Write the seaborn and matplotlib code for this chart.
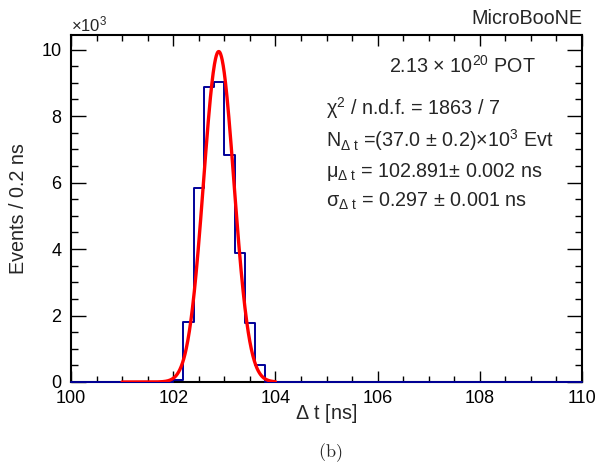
import numpy as np
import pandas as pd
import seaborn as sns
import matplotlib
matplotlib.use("Agg")
import matplotlib.pyplot as plt
from matplotlib.ticker import MultipleLocator

# ---------------- data ----------------
bin_width = 0.2                      # ns
x_range = [100.0, 110.0]
filled_bin_starts = [102.0, 102.2, 102.4, 102.6, 102.8, 103.0, 103.2, 103.4, 103.6]
filled_counts_k = [0.05, 1.79, 5.82, 8.88, 9.03, 6.84, 3.88, 1.76, 0.51]   # x10^3 events

# Gaussian fit parameters (as printed on the chart)
fit_N_k = 37.0        # x10^3 events
fit_mu = 102.891      # ns
fit_sigma = 0.297     # ns
fit_range = [101.0, 104.0]

x_ticks = [100, 102, 104, 106, 108, 110]
y_ticks = [0, 2, 4, 6, 8, 10]

# ---------------- style ----------------
sns.set_theme(style="ticks")
plt.rcParams["font.family"] = ["Liberation Sans", "DejaVu Sans"]
plt.rcParams["mathtext.fontset"] = "custom"
plt.rcParams["mathtext.rm"] = "Liberation Sans"
plt.rcParams["mathtext.it"] = "Liberation Sans"
plt.rcParams["mathtext.default"] = "regular"

FS_TICK = 13
FS_TXT = 14.2

fig = plt.figure(figsize=(5.98, 4.72), dpi=100)
ax = fig.add_axes([71 / 598, 90 / 472, 511 / 598, 347 / 472])

# histogram through seaborn
n_bins = int(round((x_range[1] - x_range[0]) / bin_width))
centers = x_range[0] + bin_width * (np.arange(n_bins) + 0.5)
weights = np.zeros(n_bins)
for s, c in zip(filled_bin_starts, filled_counts_k):
    idx = int(round((s - x_range[0]) / bin_width))
    weights[idx] = c
df = pd.DataFrame({"dt": centers, "w": weights})
sns.histplot(data=df, x="dt", weights="w", binwidth=bin_width, binrange=tuple(x_range),
             element="step", fill=False, color="#000099", linewidth=1.4, ax=ax, zorder=4)
for art in list(ax.lines) + list(ax.collections) + list(ax.patches):
    art.set_clip_on(False)

# Gaussian fit curve from the printed parameters
xf = np.linspace(fit_range[0], fit_range[1], 600)
yf = fit_N_k * bin_width / (fit_sigma * np.sqrt(2 * np.pi)) * np.exp(-0.5 * ((xf - fit_mu) / fit_sigma) ** 2)
sns.lineplot(x=xf, y=yf, color="#ff0000", linewidth=2.4, ax=ax, sort=False,
             estimator=None, zorder=5)

ymax = 1.05 * max(max(filled_counts_k), yf.max())
ax.set_xlim(*x_range)
ax.set_ylim(0, ymax)
ax.set_xticks(x_ticks)
ax.set_yticks(y_ticks)
ax.xaxis.set_minor_locator(MultipleLocator(0.5))
ax.yaxis.set_minor_locator(MultipleLocator(0.5))
ax.tick_params(which="both", direction="in", top=True, right=True, colors="black",
               labelsize=FS_TICK, width=1.0)
ax.tick_params(axis="x", which="major", length=8, pad=6)
ax.tick_params(axis="x", which="minor", length=4)
ax.tick_params(axis="y", which="major", length=11, pad=7)
ax.tick_params(axis="y", which="minor", length=5)
for sp in ax.spines.values():
    sp.set_linewidth(1.5)
    sp.set_color("black")
    sp.set_visible(True)
ax.grid(False)
ax.set_facecolor("white")

ax.set_xlabel(r"$\Delta$ t [ns]", fontsize=FS_TXT)
ax.xaxis.set_label_coords(0.5, -0.058)
ax.set_ylabel("Events / 0.2 ns", fontsize=FS_TXT)
ax.yaxis.set_label_coords(-0.085, 0.5)

ax.text(0.0, 1.009, r"$\times$10$^{3}$", transform=ax.transAxes, fontsize=12,
        ha="left", va="baseline")
ax.text(1.0, 1.032, "MicroBooNE", transform=ax.transAxes, fontsize=FS_TXT,
        ha="right", va="baseline")

tx = 0.50
ax.text(0.623, 0.890, r"2.13 $\times$ 10$^{20}$ POT", transform=ax.transAxes,
        fontsize=FS_TXT, va="baseline")
ax.text(tx, 0.769, r"$\chi^{2}$ / n.d.f. = 1863 / 7", transform=ax.transAxes,
        fontsize=FS_TXT, va="baseline")
ax.text(tx, 0.677, r"N$_{\Delta\ t}$ =(37.0 $\pm$ 0.2)$\times$10$^{3}$ Evt",
        transform=ax.transAxes, fontsize=FS_TXT, va="baseline")
ax.text(tx, 0.591, r"$\mu_{\Delta\ t}$ = 102.891$\pm$ 0.002 ns",
        transform=ax.transAxes, fontsize=FS_TXT, va="baseline")
ax.text(tx, 0.504, r"$\sigma_{\Delta\ t}$ = 0.297 $\pm$ 0.001 ns",
        transform=ax.transAxes, fontsize=FS_TXT, va="baseline")

fig.text(0.552, 0.042, r"$\mathrm{(b)}$", math_fontfamily="cm", fontsize=13,
         ha="center", va="center")

fig.savefig("out.png", dpi=100, facecolor="white")
